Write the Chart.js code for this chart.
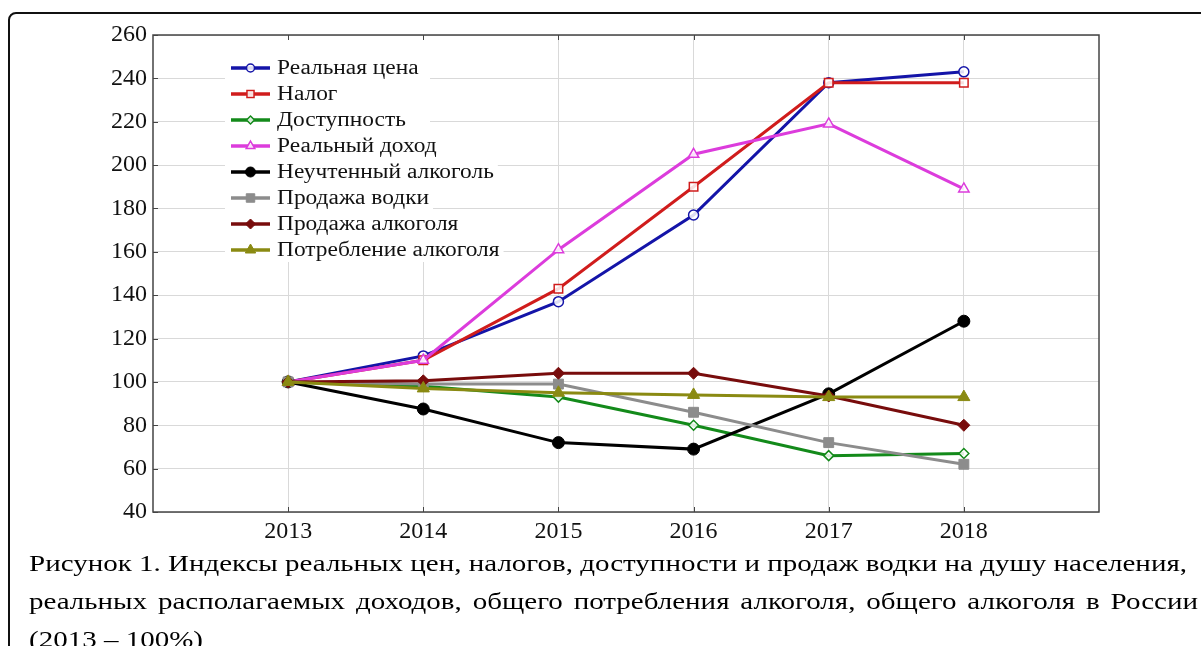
<!DOCTYPE html>
<html>
<head>
  <meta charset="utf-8">
  <title>Индексы реальных цен, налогов, доступности</title>
  <script src="https://cdn.jsdelivr.net/npm/chart.js@4.4.0/dist/chart.umd.min.js"></script>
  <style>
    html, body { margin: 0; padding: 0; background: #fff; }
    body { width: 1201px; height: 646px; overflow: hidden; position: relative; }
    .frame {
      position: absolute; left: 8px; top: 12px; width: 1300px; height: 700px;
      border: 2px solid #111; border-radius: 8px; box-sizing: border-box;
    }
    .chart-box { position: absolute; left: 0; top: 0; width: 1201px; height: 548px; }
    .caption {
      position: absolute; left: 29px; top: 544px;
      font-family: 'Liberation Serif', 'Times New Roman', serif;
      font-size: 24px; line-height: 38px; color: #000;
      transform-origin: 0 0;
    }
    .caption div { white-space: nowrap; }
    .caption .j { text-align: justify; text-align-last: justify; }
  </style>
</head>
<body>
  <div class="frame"></div>
  <div class="chart-box"><canvas id="myChart"></canvas></div>
  <div class="caption" id="caption">
    <div><span id="line1">Рисунок 1. Индексы реальных цен, налогов, доступности и продаж водки на душу населения,</span></div>
    <div class="j" id="line2">реальных располагаемых доходов, общего потребления алкоголя, общего алкоголя в России</div>
    <div>(2013 – 100%)</div>
  </div>
  <script>
    // данные
    var years = [2013, 2014, 2015, 2016, 2017, 2018];
    var seriesNames = ['Реальная цена', 'Налог', 'Доступность', 'Реальный доход',
      'Неучтенный алкоголь', 'Продажа водки', 'Продажа алкоголя', 'Потребление алкоголя'];
    var realPrice   = [100, 112, 137, 177, 238, 243];
    var tax         = [100, 110, 143, 190, 238, 238];
    var access      = [100, 98, 93, 80, 66, 67];
    var realIncome  = [100, 110, 161, 205, 219, 189];
    var unrecorded  = [100, 87.5, 72, 69, 94.5, 128];
    var vodkaSales  = [100, 99, 99, 86, 72, 62];
    var alcSales    = [100, 100.5, 104, 104, 93.5, 80];
    var alcConsump  = [100, 97, 95, 94, 93, 93];
    var yTicks = [40, 60, 80, 100, 120, 140, 160, 180, 200, 220, 240, 260];

    var allValues = [realPrice, tax, access, realIncome, unrecorded, vodkaSales, alcSales, alcConsump];
    var colors = ['#1414a8', '#d01c1c', '#138a1a', '#dc3cdc', '#000000', '#8c8c8c', '#780c0c', '#8a8a12'];
    var styles = ['circle', 'rect', 'rectRot', 'triangle', 'circle', 'rect', 'rectRot', 'triangle'];
    var radii  = [5, 6, 5, 6, 6, 7, 6, 7];
    var hollow = [true, true, true, true, false, false, false, false];

    var serif = "'Liberation Serif', 'Times New Roman', serif";
    var stretch = 1.17; // текст в оригинале шире обычного

    // подпись: растянуть первую строку до правого края 1187px
    var line1 = document.getElementById('line1');
    var k = (1187 - 29) / line1.getBoundingClientRect().width;
    document.getElementById('caption').style.transform = 'scaleX(' + k + ')';
    document.getElementById('line2').style.width = ((1198 - 29) / k) + 'px';

    var datasets = seriesNames.map(function(name, i) {
      return {
        label: name,
        data: years.map(function(y, k) { return { x: y, y: allValues[i][k] }; }),
        borderColor: colors[i],
        backgroundColor: colors[i],
        borderWidth: 3,
        pointStyle: styles[i],
        pointRadius: radii[i],
        pointBackgroundColor: hollow[i] ? 'rgba(255,255,255,0.85)' : colors[i],
        pointBorderColor: colors[i],
        pointBorderWidth: hollow[i] ? 1.5 : 1,
        tension: 0,
        order: seriesNames.length - i
      };
    });

    // рамка, внутренние засечки и легенда внутри области графика
    var boxAndLegend = {
      id: 'boxAndLegend',
      afterDraw: function(chart) {
        var ctx = chart.ctx;
        var a = chart.chartArea;
        var xs = chart.scales.x, ys = chart.scales.y;
        ctx.save();
        ctx.strokeStyle = '#444';
        ctx.lineWidth = 1.5;
        ctx.strokeRect(a.left, a.top, a.right - a.left, a.bottom - a.top);

        // засечки внутрь
        ctx.lineWidth = 1;
        ctx.beginPath();
        yTicks.forEach(function(v) {
          var py = Math.round(ys.getPixelForValue(v)) + 0.5;
          ctx.moveTo(a.left, py); ctx.lineTo(a.left + 5, py);
        });
        years.forEach(function(v) {
          var px = Math.round(xs.getPixelForValue(v)) + 0.5;
          ctx.moveTo(px, a.bottom); ctx.lineTo(px, a.bottom - 5);
          ctx.moveTo(px, a.top); ctx.lineTo(px, a.top + 5);
        });
        ctx.stroke();

        // белая подложка легенды
        ctx.fillStyle = '#fff';
        ctx.fillRect(a.left + 72, a.top + 5, 205, 222);

        ctx.font = '20px ' + serif;
        ctx.textBaseline = 'middle';
        chart.data.datasets.forEach(function(ds, i) {
          var y = a.top + 33 + i * 26;
          var x0 = a.left + 78, x1 = a.left + 117;
          var tx = a.left + 124;
          var w = ctx.measureText(ds.label).width * stretch;
          ctx.fillStyle = '#fff';
          ctx.fillRect(tx - 2, y - 10, w + 6, 21);

          ctx.strokeStyle = ds.borderColor;
          ctx.lineWidth = 3.5;
          ctx.beginPath();
          ctx.moveTo(x0, y);
          ctx.lineTo(x1, y);
          ctx.stroke();
          ctx.fillStyle = ds.pointBackgroundColor;
          ctx.strokeStyle = ds.pointBorderColor;
          ctx.lineWidth = ds.pointBorderWidth;
          Chart.helpers.drawPoint(ctx, {
            pointStyle: ds.pointStyle, radius: ds.pointRadius - 1,
            rotation: 0, borderWidth: ds.pointBorderWidth
          }, (x0 + x1) / 2, y);

          ctx.save();
          ctx.translate(tx, y + 1);
          ctx.scale(stretch, 1);
          ctx.fillStyle = '#111';
          ctx.fillText(ds.label, 0, 0);
          ctx.restore();
        });
        ctx.restore();
      }
    };

    var ctx = document.getElementById('myChart').getContext('2d');
    var myChart = new Chart(ctx, {
      type: 'line',
      data: { datasets: datasets },
      options: {
        responsive: true,
        maintainAspectRatio: false,
        animation: false,
        layout: { padding: { top: 35, right: 102, left: 0, bottom: 0 } },
        plugins: {
          legend: { display: false },
          tooltip: { enabled: false }
        },
        scales: {
          x: {
            type: 'linear',
            min: 2012,
            max: 2019,
            afterFit: function(scale) { scale.height = 36; },
            afterBuildTicks: function(scale) {
              scale.ticks = [2012].concat(years, [2019]).map(function(v) { return { value: v }; });
            },
            ticks: {
              stepSize: 1,
              padding: 5,
              color: '#111',
              font: { family: serif, size: 24 },
              callback: function(v) { return years.indexOf(v) >= 0 ? String(v) : ''; }
            },
            grid: {
              color: function(c) { return years.indexOf(c.tick.value) >= 0 ? '#d9d9d9' : 'rgba(0,0,0,0)'; },
              lineWidth: 1,
              drawTicks: false
            },
            border: { display: false }
          },
          y: {
            min: 40,
            max: 260,
            afterFit: function(scale) { scale.width = 153; },
            afterBuildTicks: function(scale) {
              scale.ticks = yTicks.map(function(v) { return { value: v }; });
            },
            ticks: {
              stepSize: 20,
              padding: 6,
              color: '#111',
              font: { family: serif, size: 24 }
            },
            grid: { color: '#d9d9d9', lineWidth: 1, drawTicks: false },
            border: { display: false }
          }
        }
      },
      plugins: [boxAndLegend]
    });
  </script>
</body>
</html>
